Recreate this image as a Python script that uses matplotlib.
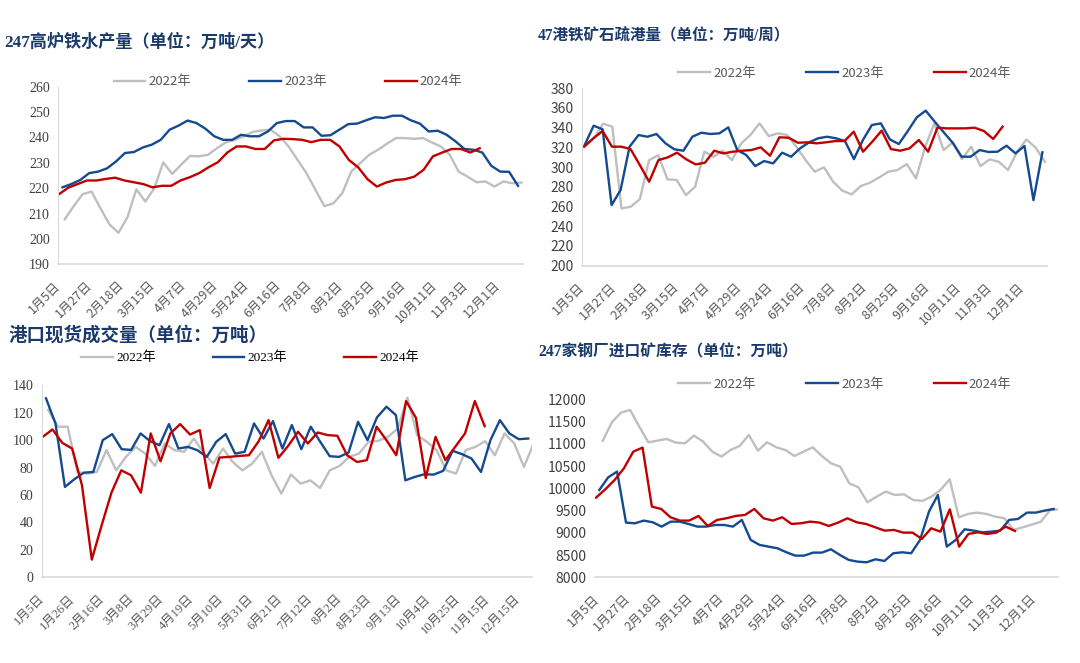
import numpy as np
import matplotlib
matplotlib.use("Agg")
import matplotlib.pyplot as plt

plt.rcParams['font.family'] = ['Noto Sans CJK SC', 'DejaVu Sans']

# ---- data -------------------------------------------------------------
years = ['2022年', '2023年', '2024年']
colors = ['#BFBFBF', '#144A8F', '#C00000']

labels_a = ['1月5日', '1月27日', '2月18日', '3月15日', '4月7日', '4月29日', '5月24日',
            '6月16日', '7月8日', '8月2日', '8月25日', '9月16日', '10月11日', '11月3日', '12月1日']
labels_c = ['1月5日', '1月26日', '2月16日', '3月8日', '3月29日', '4月19日', '5月10日', '5月31日',
            '6月21日', '7月12日', '8月2日', '8月23日', '9月13日', '10月4日', '10月25日', '11月15日', '12月15日']

# 247高炉铁水产量
hm_2022 = [207.7, 212.9, 217.6, 218.6, 212.0, 205.7, 202.4, 208.5, 219.5, 214.7, 219.9, 230.1, 225.6,
           229.2, 232.7, 232.5, 233.1, 235.7, 238.0, 239.0, 240.4, 242.1, 242.7, 243.0, 240.4, 236.4,
           231.1, 225.9, 219.3, 212.9, 214.0, 218.0, 226.5, 229.8, 233.1, 235.1, 237.5, 239.7, 239.7,
           239.4, 239.7, 238.0, 236.4, 233.1, 226.5, 224.5, 222.3, 222.6, 220.6, 222.6, 221.9, 222.2]
hm_2023 = [220.3, 221.6, 223.2, 225.9, 226.5, 227.8, 230.5, 233.8, 234.2, 236.0, 237.1, 239.0, 243.0,
           244.6, 246.6, 245.6, 243.4, 240.4, 239.0, 239.0, 241.0, 240.4, 240.4, 242.3, 245.6, 246.4,
           246.4, 243.9, 243.9, 240.6, 240.8, 243.0, 245.2, 245.4, 246.7, 247.9, 247.6, 248.5, 248.5,
           246.7, 245.4, 242.3, 242.6, 241.0, 238.4, 235.4, 235.1, 234.0, 228.8, 226.5, 226.4, 220.9]
hm_2024 = [217.6, 220.2, 221.6, 223.0, 223.0, 223.6, 224.1, 223.0, 222.3, 221.6, 220.3, 220.9, 220.9,
           223.0, 224.3, 225.9, 228.2, 230.2, 234.0, 236.4, 236.4, 235.4, 235.4, 238.8, 239.4, 239.3,
           239.0, 238.1, 239.0, 239.0, 236.4, 231.1, 228.2, 223.5, 220.6, 222.2, 223.2, 223.5, 224.5,
           227.2, 232.5, 234.0, 235.4, 235.4, 234.0, 235.7]

# 47港铁矿石疏港量
pt_2022 = [320.7, 329, 344, 341, 258, 259.7, 267.5, 307, 312, 287.5, 286.8, 271.5, 280, 315.6, 310.5,
           316.6, 307, 324, 332.5, 344.4, 331.5, 334.2, 332.5, 320.7, 307.1, 295.3, 299.7, 285.1, 276,
           272.2, 280.7, 284.1, 289.5, 295.3, 297, 303, 288.5, 320.7, 344.4, 317.3, 325.1, 308.1, 320.7,
           301, 307.8, 305.4, 297, 315.6, 328.1, 319.7, 305.4]
pt_2023 = [322.4, 342, 338.3, 261.4, 276.6, 320.7, 332.5, 330.8, 333.6, 324.1, 318, 316.6, 330.8, 334.9,
           333.6, 334.2, 340.3, 317.3, 312.2, 301, 306.1, 303.7, 314.6, 310.5, 319, 325.1, 329.2, 330.8,
           329.2, 326.4, 308.1, 327.5, 342.7, 344.4, 328.1, 323.4, 336.6, 350.5, 357.3, 346.1, 335.3,
           324.7, 310.5, 310.5, 317.3, 315.3, 315.6, 321.7, 313.9, 321.4, 266.4, 315]
pt_2024 = [320.7, 329.2, 336.6, 320.7, 320.7, 318.3, 302, 285.1, 307.1, 309.8, 314.6, 307.8, 302.7, 304.4,
           316.6, 313.9, 315.6, 316.6, 317.3, 320, 311.5, 330.2, 329.8, 324.7, 325.1, 324.1, 325.1, 326.4,
           326.4, 335.9, 315.6, 325.8, 337, 318.3, 316.6, 319, 327.5, 315.6, 340, 339.3, 339.3, 339.3,
           340, 336.6, 328.5, 341]

# 港口现货成交量
sp_2022 = [122, 109.8, 109.8, 76.8, 75.6, 76.8, 92.7, 78, 87.8, 95.1, 90.2, 81.2, 97.6, 92.7, 91.5, 101.2,
           90.7, 82.9, 93.9, 84.1, 78, 82.9, 91.5, 74.4, 61, 74.9, 68.3, 70.7, 65.1, 78, 81.2, 87.8, 90.2,
           98.8, 99.5, 102.4, 108.5, 131, 103.7, 98.8, 92.7, 78, 75.6, 92.7, 95.1, 99.3, 89, 104.9, 97.6,
           80.5, 97.6]
sp_2023 = [130.5, 112.2, 65.9, 71.5, 76.3, 76.8, 100, 104.4, 93.4, 92.9, 104.9, 99.3, 96.3, 111.7, 93.9,
           95.1, 92.7, 87.8, 98.8, 104.4, 90.2, 91.5, 112.2, 101.2, 113.9, 93.9, 111, 93.4, 109.8, 98.8,
           88.3, 87.8, 91, 113.4, 100, 116.6, 124.4, 118.3, 70.7, 73.2, 75.1, 74.9, 77.6, 92.2, 89.8,
           86.6, 76.8, 100, 114.6, 104.9, 100.7, 101.2]
sp_2024 = [102.4, 107.8, 98, 93.9, 67.1, 12.9, 37.8, 61.7, 78, 74.4, 61.7, 104.9, 84.6, 104.9, 111.7,
           104.1, 107.3, 65.1, 87.3, 87.8, 88.5, 89, 99.3, 114.6, 87.1, 95.9, 106.1, 97.6, 105.6, 103.7,
           103.2, 89, 84.1, 85.4, 109.8, 100, 89, 128.5, 116.3, 72.4, 102.4, 85.4, 95.1, 104.9, 128.5, 110.2]

# 247家钢厂进口矿库存
st_2022 = [11064, 11483, 11700, 11760, 11386, 11034, 11071, 11109, 11026, 11011, 11184, 11049, 10824,
           10712, 10861, 10951, 11199, 10847, 11034, 10921, 10861, 10727, 10824, 10921, 10727, 10562,
           10487, 10113, 10023, 9686, 9813, 9925, 9850, 9865, 9738, 9716, 9813, 9963, 10202, 9349, 9424,
           9454, 9424, 9364, 9326, 9064, 9124, 9184, 9251, 9513, 9528]
st_2023 = [9963, 10247, 10375, 9229, 9214, 9274, 9236, 9139, 9251, 9251, 9199, 9139, 9139, 9176, 9176,
           9139, 9289, 8839, 8727, 8689, 8652, 8562, 8487, 8487, 8555, 8555, 8630, 8502, 8390, 8352, 8337,
           8405, 8367, 8540, 8562, 8540, 8839, 9476, 9850, 8689, 8839, 9079, 9049, 9011, 9026, 9049, 9289,
           9311, 9454, 9454, 9499, 9536]
st_2024 = [9790, 9978, 10187, 10450, 10824, 10914, 9588, 9536, 9349, 9274, 9274, 9379, 9154, 9289, 9326,
           9379, 9401, 9536, 9326, 9274, 9349, 9199, 9214, 9251, 9229, 9154, 9229, 9326, 9236, 9199, 9124,
           9049, 9064, 9004, 9004, 8862, 9101, 9026, 9528, 8689, 8974, 9011, 8974, 9004, 9139, 9041]

# ---- drawing ----------------------------------------------------------
W, H = 1080, 663
fig = plt.figure(figsize=(W / 100, H / 100), dpi=100)
serif = ['Liberation Serif', 'Noto Sans CJK SC']
sans = ['Noto Sans CJK SC', 'DejaVu Sans']
title_color = '#1B3A6B'


def px_box(l, r, t, b):
    return [l / W, 1 - b / H, (r - l) / W, (b - t) / H]


def panel(box, series, spans, xmax, ylim, yticks, xticks, xlabels, title, title_xy, title_size,
          leg_xy, colspace, yfont, xfont, legfont, left_spine=True):
    ax = fig.add_axes(px_box(*box))
    handles = []
    for vals, (s, e), c, name in zip(series, spans, colors, years):
        x = np.linspace(s, e, len(vals))
        h, = ax.plot(x, vals, color=c, lw=1.7, label=name, solid_joinstyle='round')
        handles.append(h)
    ax.set_xlim(0, xmax)
    ax.set_ylim(*ylim)
    ax.set_yticks(yticks)
    ax.set_xticks(xticks)
    ax.set_xticklabels(xlabels, rotation=45, ha='right', va='center', rotation_mode='anchor',
                       family=xfont, fontsize=9, color='#595959')
    for lab in ax.get_yticklabels():
        lab.set_family(yfont)
        lab.set_fontsize(10)
        lab.set_color('#404040')
    ax.tick_params(length=0, axis='both')
    ax.tick_params(axis='x', pad=14)
    ax.tick_params(axis='y', pad=6)
    for sp in ['top', 'right']:
        ax.spines[sp].set_visible(False)
    ax.spines['bottom'].set_color('#D9D9D9')
    ax.spines['bottom'].set_linewidth(1.2)
    ax.spines['left'].set_color('#D9D9D9')
    ax.spines['left'].set_visible(left_spine)
    fig.text(title_xy[0] / W, 1 - title_xy[1] / H, title, family=serif, fontweight='bold',
             fontsize=title_size, color=title_color, va='center', ha='left')
    ax.legend(handles=handles, loc='center', bbox_to_anchor=(leg_xy[0] / W, 1 - leg_xy[1] / H),
              bbox_transform=fig.transFigure, ncol=3, frameon=False, handlelength=2.4,
              handletextpad=0.25, columnspacing=colspace,
              prop={'family': legfont, 'size': 9.5})
    if legfont is sans:
        for t in ax.get_legend().get_texts():
            t.set_color('#595959')
    return ax


ticks_a = np.arange(len(labels_a)) * 24.7 + 0.5

panel((58, 523, 86.5, 264.3), [hm_2022, hm_2023, hm_2024],
      [(5.3, 364.7), (3.5, 362.1), (0.8, 331.9)], 366, (190, 260), range(190, 261, 10),
      ticks_a, labels_a, '247高炉铁水产量（单位：万吨/天）', (4, 42), 12.3, (288, 82), 4.4,
      serif, sans, sans)

panel((582, 1047, 88.3, 265.5), [pt_2022, pt_2023, pt_2024],
      [(2.1, 364.3), (2.1, 362.4), (1.6, 331.0)], 366, (200, 380), range(200, 381, 20),
      ticks_a, labels_a, '47港铁矿石疏港量（单位：万吨/周）', (538, 35), 11.2, (845, 73), 3.8,
      sans, sans, sans)

ticks_c = np.arange(len(labels_c)) * 3.03 + 0.13
panel((41.7, 531.7, 385.3, 577.3), [sp_2022, sp_2023, sp_2024],
      [(0.67, 50.2), (0.44, 49.65), (0.1, 45.2)], 50, (0, 140), range(0, 141, 20),
      ticks_c, labels_c, '港口现货成交量（单位：万吨）', (8, 335), 13.3, (250, 358), 4.3,
      serif, serif, serif)

panel((595, 1058, 399.3, 577.3), [st_2022, st_2023, st_2024],
      [(6.1, 367), (3.4, 362.6), (0.8, 332.0)], 366, (8000, 12000), range(8000, 12001, 500),
      ticks_a + 1, labels_a, '247家钢厂进口矿库存（单位：万吨）', (538, 352), 11.3, (845, 384), 3.8,
      sans, sans, sans, left_spine=False)

fig.savefig('out.png', dpi=100)
